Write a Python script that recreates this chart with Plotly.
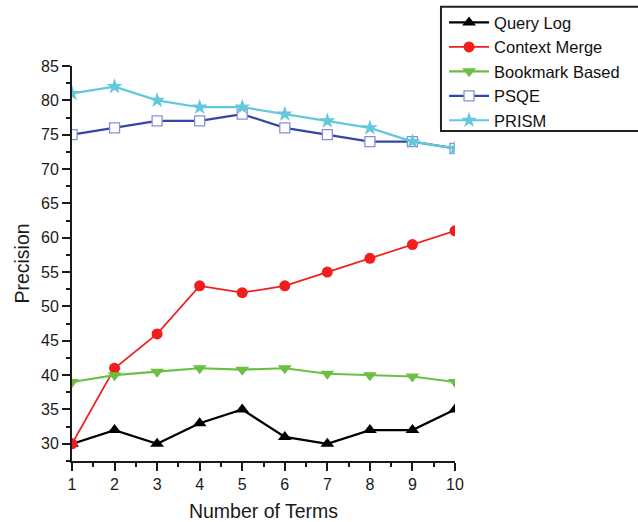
import plotly.graph_objects as go

terms = [1, 2, 3, 4, 5, 6, 7, 8, 9, 10]
query_log = [30, 32, 30, 33, 35, 31, 30, 32, 32, 35]
context_merge = [30, 41, 46, 53, 52, 53, 55, 57, 59, 61]
bookmark_based = [39, 40, 40.5, 41, 40.8, 41, 40.2, 40, 39.8, 39]
psqe = [75, 76, 77, 77, 78, 76, 75, 74, 74, 73]
prism = [81, 82, 80, 79, 79, 78, 77, 76, 74, 73]

fig = go.Figure()
fig.add_trace(go.Scatter(x=terms, y=query_log, name="Query Log", mode="lines+markers",
                         line=dict(color="black", width=2.2),
                         marker=dict(symbol="triangle-up", size=12, color="black")))
fig.add_trace(go.Scatter(x=terms, y=context_merge, name="Context Merge", mode="lines+markers",
                         line=dict(color="#f01e1e", width=1.7),
                         marker=dict(symbol="circle", size=11, color="#f01e1e")))
fig.add_trace(go.Scatter(x=terms, y=bookmark_based, name="Bookmark Based", mode="lines+markers",
                         line=dict(color="#6cbf45", width=2.2),
                         marker=dict(symbol="triangle-down", size=12, color="#6cbf45")))
fig.add_trace(go.Scatter(x=terms, y=psqe, name="PSQE", mode="lines+markers",
                         line=dict(color="#3047a6", width=2.2),
                         marker=dict(symbol="square", size=10, color="white",
                                     line=dict(color="#8c8ed6", width=1.3))))
fig.add_trace(go.Scatter(x=terms, y=prism, name="PRISM", mode="lines+markers",
                         line=dict(color="#62c8dc", width=2.2),
                         marker=dict(symbol="star", size=12, color="#62c8dc")))

# legend frame (runs past the right edge, as in the reference)
fig.add_shape(type="rect", xref="paper", yref="paper",
              x0=0.9634, x1=1.49, y0=0.8354, y1=1.15,
              line=dict(color="#222222", width=2), fillcolor="white", layer="above")

font_family = "Liberation Sans, Arial, sans-serif"
fig.update_layout(
    width=638, height=522,
    margin=dict(l=72, r=183, t=66, b=61, autoexpand=False),
    plot_bgcolor="white", paper_bgcolor="white",
    font=dict(family=font_family, color="#1a1a1a", size=16),
    showlegend=True,
    legend=dict(xref="container", yref="container", x=0.696, y=0.990,
                xanchor="left", yanchor="top",
                bgcolor="rgba(0,0,0,0)", borderwidth=0,
                font=dict(size=16.5, family=font_family, color="#111111"),
                tracegroupgap=0, itemwidth=40),
    xaxis=dict(range=[1, 10], dtick=1, tick0=1, showgrid=False, zeroline=False,
               showline=True, linecolor="#1a1a1a", linewidth=2,
               ticks="outside", ticklen=8, tickwidth=1.5, tickcolor="#1a1a1a",
               minor=dict(dtick=0.5, tick0=1, ticks="outside", ticklen=4, tickwidth=1.5, tickcolor="#1a1a1a"),
               tickfont=dict(size=16),
               title=dict(text="Number of Terms", font=dict(size=19.5), standoff=14)),
    yaxis=dict(range=[27.5, 85], dtick=5, tick0=30, showgrid=False, zeroline=False,
               showline=True, linecolor="#1a1a1a", linewidth=2,
               ticks="outside", ticklen=8, tickwidth=1.5, tickcolor="#1a1a1a",
               minor=dict(dtick=2.5, tick0=30, ticks="outside", ticklen=4, tickwidth=1.5, tickcolor="#1a1a1a"),
               tickfont=dict(size=16),
               title=dict(text="Precision", font=dict(size=19.5), standoff=6)),
)

fig.write_html("out.html", config={"displayModeBar": False},
               post_script="document.body.style.margin='0';document.body.style.overflow='hidden';")
